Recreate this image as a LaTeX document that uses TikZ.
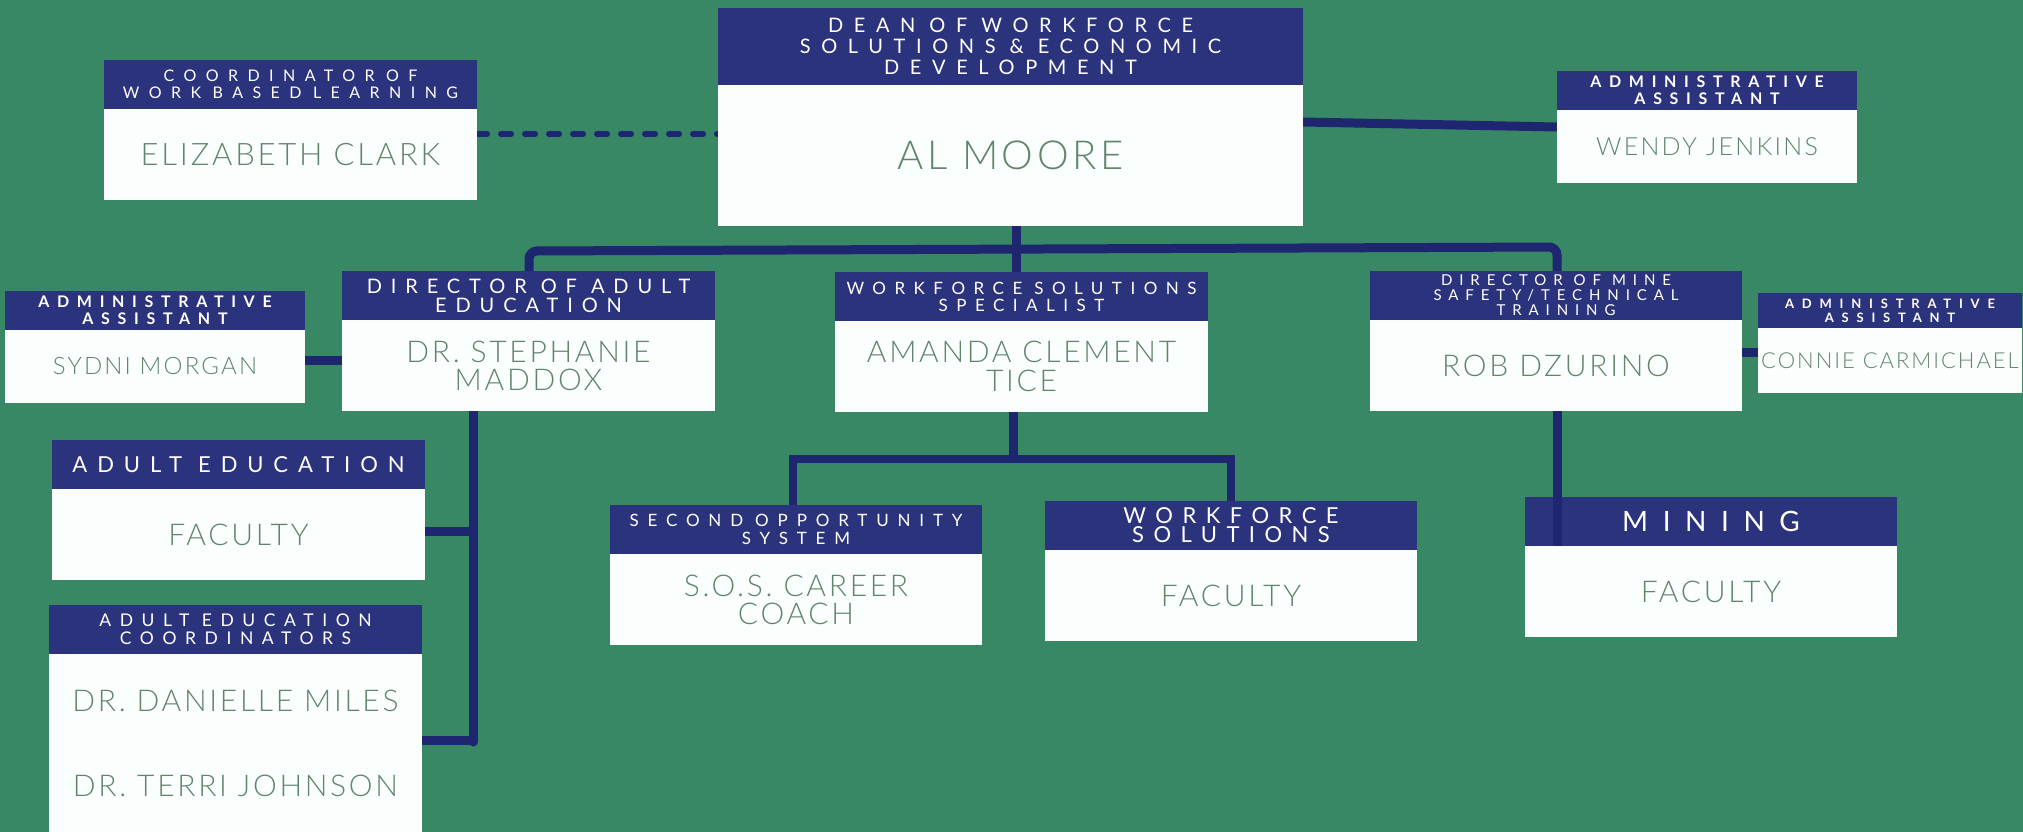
\documentclass[tikz,border=0pt]{standalone}
\usepackage{fontspec}
\newfontfamily\hdrfont{Lato}
\newfontfamily\namefont{Lato Light}[LetterSpace=9]
\pgfdeclarelayer{bg}
\pgfsetlayers{bg,main}
\newcommand\hf[3]{\fontsize{#1}{#2}\hdrfont\addfontfeatures{LetterSpace=#3}}
\newcommand\hfb[3]{\fontsize{#1}{#2}\hdrfont\bfseries\addfontfeatures{LetterSpace=#3}}
\newcommand\nf[2]{\fontsize{#1}{#2}\namefont}
\newcommand\hgap[1][12]{\rule{#1pt}{0pt}}
\definecolor{bgcol}{RGB}{56,136,102}
\definecolor{navy}{RGB}{43,51,124}
\definecolor{linkcol}{RGB}{30,38,112}
\definecolor{boxwhite}{RGB}{250,255,254}
\definecolor{namecol}{RGB}{98,132,108}
\tikzset{
 hdr/.style={fill=navy, text=white, inner sep=0pt, outer sep=0pt, anchor=north west, align=center},
 bod/.style={fill=boxwhite, text=namecol, inner sep=0pt, outer sep=0pt, anchor=north west, align=center},
 link/.style={draw=linkcol, line width=9pt},
 sublink/.style={draw=linkcol, line width=8pt},
 dashlink/.style={draw=linkcol, line width=6pt, line cap=round, dash pattern=on 10pt off 14pt},
}
\begin{document}
\begin{tikzpicture}[x=1pt,y=-1pt]
\useasboundingbox (0,0) rectangle (2023,832);
% Dean
\node[hdr, minimum width=585pt, minimum height=77pt, font=\hf{20}{21}{53}] (dean-h) at (718,8) {DEAN\hgap[14]OF\hgap[14]WORKFORCE\\SOLUTIONS\hgap[14]\&\hgap[14]ECONOMIC\\DEVELOPMENT};
\node[bod, minimum width=585pt, minimum height=141pt, font=\nf{40}{40}] (dean-b) at (dean-h.south west) {AL MOORE};
% Elizabeth
\node[hdr, minimum width=373pt, minimum height=49pt, font=\hf{16}{17}{59}] (eliz-h) at (104,60) {COORDINATOR\hgap[11.5]OF\\WORK\hgap[11.5]BASED\hgap[11.5]LEARNING};
\node[bod, minimum width=373pt, minimum height=91pt, font=\nf{31}{31}] (eliz-b) at (eliz-h.south west) {ELIZABETH CLARK};
% Wendy
\node[hdr, minimum width=300pt, minimum height=39pt, font=\hfb{16}{17}{48}] (wendy-h) at (1557,71) {ADMINISTRATIVE\\ASSISTANT};
\node[bod, minimum width=300pt, minimum height=73pt, font=\nf{25}{25}] (wendy-b) at (wendy-h.south west) {WENDY JENKINS};
% Sydni
\node[hdr, minimum width=300pt, minimum height=39pt, font=\hfb{16}{17}{48}] (sydni-h) at (5,291) {ADMINISTRATIVE\\ASSISTANT};
\node[bod, minimum width=300pt, minimum height=73pt, font=\nf{24}{24}] (sydni-b) at (sydni-h.south west) {SYDNI MORGAN};
% Stephanie
\node[hdr, minimum width=373pt, minimum height=49pt, font=\hf{20}{19}{44.5}] (steph-h) at (342,271) {DIRECTOR\hgap[14]OF\hgap[14]ADULT\\EDUCATION};
\node[bod, minimum width=373pt, minimum height=91pt, font=\nf{30}{28}] (steph-b) at (steph-h.south west) {DR. STEPHANIE\\MADDOX};
% Amanda
\node[hdr, minimum width=373pt, minimum height=49pt, font=\hf{17}{17}{50}] (amanda-h) at (835,272) {WORKFORCE\hgap[12]SOLUTIONS\\SPECIALIST};
\node[bod, minimum width=373pt, minimum height=91pt, font=\nf{30}{29}] (amanda-b) at (amanda-h.south west) {AMANDA CLEMENT\\TICE};
% Rob
\node[hdr, minimum width=372pt, minimum height=49pt, font=\hf{15}{15}{46}] (rob-h) at (1370,271) {DIRECTOR\hgap[11]OF\hgap[11]MINE\\SAFETY/TECHNICAL\\TRAINING};
\node[bod, minimum width=372pt, minimum height=91pt, font=\nf{30}{30}] (rob-b) at (rob-h.south west) {ROB DZURINO};
% Connie
\node[hdr, minimum width=264pt, minimum height=35pt, font=\hfb{13}{14}{60}] (connie-h) at (1758,293) {ADMINISTRATIVE\\ASSISTANT};
\node[bod, minimum width=264pt, minimum height=65pt, font=\nf{22}{22}] (connie-b) at (connie-h.south west) {CONNIE CARMICHAEL};
% Adult education faculty
\node[hdr, minimum width=373pt, minimum height=49pt, font=\hf{22}{22}{45}] (aefac-h) at (52,440) {ADULT\hgap[16]EDUCATION};
\node[bod, minimum width=373pt, minimum height=91pt, font=\nf{30}{30}] (aefac-b) at (aefac-h.south west) {FACULTY};
% Coordinators
\node[hdr, minimum width=373pt, minimum height=49pt, font=\hf{17.5}{18}{49}] (coord-h) at (49,605) {ADULT\hgap[12.5]EDUCATION\\COORDINATORS};
\node[bod, minimum width=373pt, minimum height=178pt, font=\nf{30}{85}] (coord-b) at (coord-h.south west) {DR. DANIELLE MILES\\DR. TERRI JOHNSON};
% SOS
\node[hdr, minimum width=372pt, minimum height=49pt, font=\hf{17}{18}{52}] (sos-h) at (610,505) {SECOND\hgap[12]OPPORTUNITY\\SYSTEM};
\node[bod, minimum width=372pt, minimum height=91pt, font=\nf{30}{28}] (sos-b) at (sos-h.south west) {S.O.S. CAREER\\COACH};
% Workforce solutions
\node[hdr, minimum width=372pt, minimum height=49pt, font=\hf{22}{19}{43}] (wfs-h) at (1045,501) {WORKFORCE\\SOLUTIONS};
\node[bod, minimum width=372pt, minimum height=91pt, font=\nf{30}{30}] (wfs-b) at (wfs-h.south west) {FACULTY};
% Mining
\node[hdr, minimum width=372pt, minimum height=49pt, font=\hf{28}{28}{52}] (mining-h) at (1525,497) {MINING};
\node[bod, minimum width=372pt, minimum height=91pt, font=\nf{30}{30}] (mining-b) at (mining-h.south west) {FACULTY};
% coordinates
\coordinate (busL) at (529,251);
\coordinate (busM) at (1016,249);
\coordinate (busR) at (1557,247);
\coordinate (sv) at (473,742);
\coordinate (am) at (1013,459);
\coordinate (sb1) at (793,459);
\coordinate (sb2) at (1231,459);
\begin{pgfonlayer}{bg}
\fill[bgcol] (0,0) rectangle (2023,832);
\draw[dashlink] (eliz-b.east |- 0,134) -- (dean-b.west |- 0,134);
\draw[link] (dean-b.east |- 0,122) -- (wendy-b.west |- 0,127);
\draw[link] (dean-b.south -| busM) -- (amanda-h.north -| busM);
\draw[link, rounded corners=8pt] (steph-h.north -| busL) -- (busL) -- (busR) -- (rob-h.north -| busR);
\draw[link] (sydni-b.east |- 0,360) -- (steph-b.west |- 0,360);
\draw[link, line cap=round] (steph-b.south -| sv) -- (sv);
\draw[link] (aefac-b.east |- 0,531) -- (sv |- 0,531);
\draw[link] (coord-b.east |- 0,740) -- (sv |- 0,740);
\draw[link] (amanda-b.south -| am) -- (am);
\draw[sublink] (sos-h.north -| sb1) -- (sb1) -- (sb2) -- (wfs-h.north -| sb2);
\draw[link] (rob-b.east |- 0,352) -- (connie-b.west |- 0,352);
\end{pgfonlayer}
\draw[link] (rob-b.south -| busR) -- (mining-h.south -| busR);
\end{tikzpicture}
\end{document}
